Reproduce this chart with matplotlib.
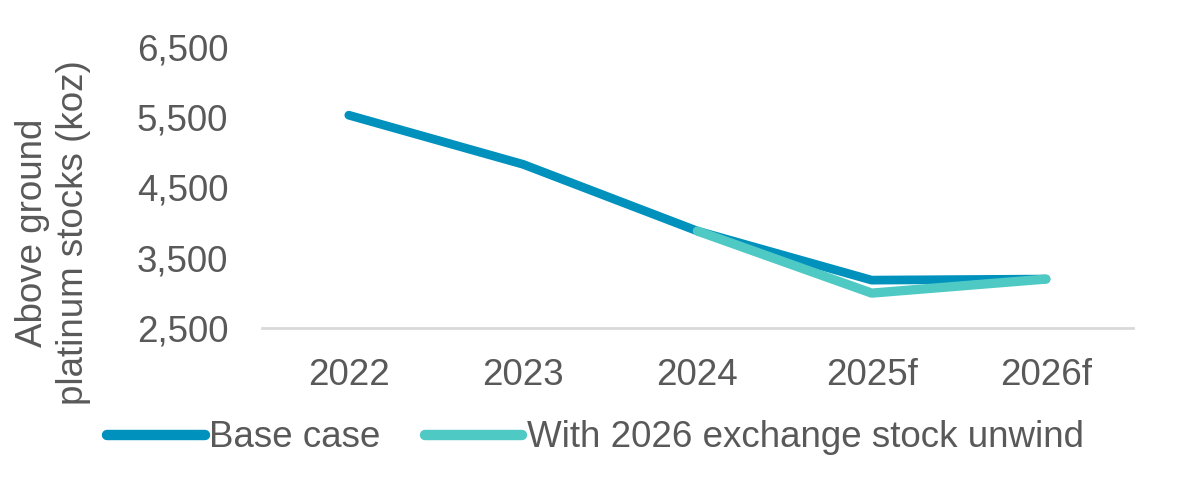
import matplotlib
matplotlib.use("Agg")
import matplotlib.pyplot as plt
from matplotlib.lines import Line2D

categories = ["2022", "2023", "2024", "2025f", "2026f"]
base_case = [5530, 4830, 3880, 3180, 3195]
unwind_cats = ["2024", "2025f", "2026f"]
unwind = [3880, 2995, 3195]
yticks = [2500, 3500, 4500, 5500, 6500]

plt.rcParams['font.family'] = ['Liberation Sans', 'DejaVu Sans']
txt = '#595959'
c_base = '#0091BD'
c_unw = '#4FC9C4'
fs = 26.5

fig = plt.figure(figsize=(11.84, 4.96), dpi=100)
ax = fig.add_axes([0.221, 0.339, 0.736, 0.566])

xi = list(range(len(categories)))
ax.plot(xi, base_case, color=c_base, lw=6.3, solid_capstyle='round', solid_joinstyle='round', zorder=3)
ux = [categories.index(c) for c in unwind_cats]
ax.plot(ux, unwind, color=c_unw, lw=6.7, solid_capstyle='round', solid_joinstyle='round', zorder=4)

ax.set_xlim(-0.5, len(categories) - 0.5)
ax.set_ylim(2500, 6500)
ax.set_xticks(xi)
ax.set_xticklabels(categories)
ax.set_yticks(yticks)
ax.set_yticklabels([f"{v:,}" for v in yticks])
for s in ['top', 'right', 'left']:
    ax.spines[s].set_visible(False)
ax.spines['bottom'].set_color('#D9D9D9')
ax.spines['bottom'].set_linewidth(2)
ax.spines['bottom'].set_zorder(1)
ax.tick_params(axis='both', length=0, labelsize=fs, colors=txt)
ax.tick_params(axis='x', pad=22)
ax.tick_params(axis='y', pad=24)
ax.set_ylabel("Above ground\nplatinum stocks (koz)", fontsize=fs, color=txt, linespacing=1.2)
ax.yaxis.set_label_coords(-0.196, 0.34)

handles = [Line2D([], [], color=c_base, lw=7.5, solid_capstyle='round'),
           Line2D([], [], color=c_unw, lw=7.5, solid_capstyle='round')]
leg = fig.legend(handles, ["Base case", "With 2026 exchange stock unwind"], loc='center left',
                 bbox_to_anchor=(0.0905, 0.117), ncol=2, frameon=False, fontsize=fs,
                 handlelength=2.65, handletextpad=0.12, columnspacing=1.2, borderaxespad=0, borderpad=0)
for t in leg.get_texts():
    t.set_color(txt)

fig.savefig("out.png", dpi=100)
